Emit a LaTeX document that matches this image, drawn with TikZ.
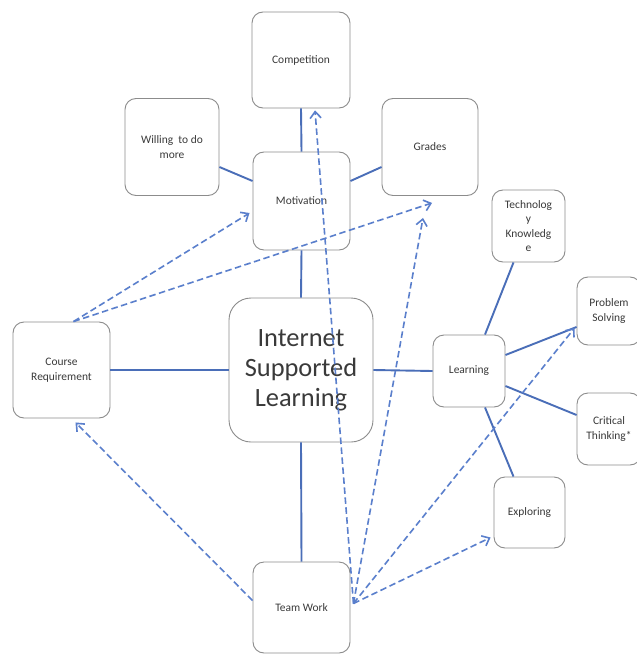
\documentclass[tikz,border=0pt]{standalone}
\usepackage{fontspec}
\setmainfont{Carlito}
\usetikzlibrary{arrows.meta,calc}
\definecolor{ln}{HTML}{4A6EB8}
\definecolor{dl}{HTML}{5A7FCC}
\definecolor{bx}{HTML}{8C8C8C}
\definecolor{tx}{HTML}{3A3A3A}
\tikzset{
 box/.style={draw=bx, line width=0.9bp, rounded corners=11bp, fill=white, align=center, text=tx,
   font=\fontsize{11.5}{14.5}\selectfont, inner sep=0pt},
 link/.style={draw=ln, line width=1.9bp},
 dlink/.style={draw=dl, line width=1.6bp, dash pattern=on 6.5bp off 3.5bp,
   -{Straight Barb[length=6.5bp,width=11bp]}},
}
\begin{document}
\begin{tikzpicture}[x=1bp,y=-1bp]
\useasboundingbox (0,0) rectangle (637,655);
\clip (0,0) rectangle (637,655);
\fill[white] (0,0) rectangle (637,655);
% boxes
\node[box, minimum width=98bp, minimum height=96bp] (comp) at (301,60) {Competition};
\node[box, minimum width=94bp, minimum height=97bp] (will) at (172,147) {Willing\ \ to do\\more};
\node[box, minimum width=96bp, minimum height=97bp] (grades) at (430,147) {Grades};
\node[box, minimum width=97bp, minimum height=98bp] (mot) at (301.5,201) {Motivation};
\node[box, minimum width=97bp, minimum height=96bp] (course) at (61.5,370) {Course\\Requirement};
\node[box, minimum width=144bp, minimum height=144bp, rounded corners=22bp,
      font=\fontsize{26.5}{30}\selectfont] (isl) at (301,370) {Internet\\Supported\\Learning};
\node[box, minimum width=72bp, minimum height=72bp] (learn) at (469,371) {Learning};
\node[box, minimum width=73bp, minimum height=72bp] (tech) at (528.5,226) {Technolog\\y\\Knowledg\\e};
\node[box, minimum width=64bp, minimum height=68bp] (ps) at (609,311) {Problem\\Solving};
\node[box, minimum width=64bp, minimum height=72bp] (ct) at (609,429) {Critical\\Thinking*};
\node[box, minimum width=71bp, minimum height=71bp] (expl) at (529.5,512.5) {Exploring};
\node[box, minimum width=97bp, minimum height=91bp] (team) at (301.5,607.5) {Team Work};
% solid links
\draw[link] (comp.south) -- (mot.north);
\draw[link] ([yshift=-20bp]will.east) -- ([yshift=20bp]mot.west);
\draw[link] ([yshift=-20bp]grades.west) -- ([yshift=20bp]mot.east);
\draw[link] (mot.south) -- (isl.north);
\draw[link] (isl.south) -- (team.north);
\draw[link] (course.east) -- (isl.west);
\draw[link] (isl.east) -- (learn.west);
\draw[link] ([xshift=16bp]learn.north) -- ([xshift=-15bp]tech.south);
\draw[link] ([yshift=16bp]learn.east) -- ([yshift=-16bp]ps.west);
\draw[link] ([yshift=-15bp]learn.east) -- ([yshift=14bp]ct.west);
\draw[link] ([xshift=16bp]learn.south) -- ([xshift=-16bp]expl.north);
% dashed arrows
\coordinate (cr) at ([xshift=12bp]course.north);
\coordinate (tw) at ([xshift=3bp,yshift=4bp]team.east);
\draw[dlink] (cr) -- ([xshift=-3bp,yshift=-12bp]mot.west);
\draw[dlink] (cr) -- ([xshift=2bp,yshift=-7bp]grades.south);
\draw[dlink] (tw) -- ([xshift=14bp,yshift=-2bp]comp.south);
\draw[dlink] (tw) -- ([xshift=-7bp,yshift=-22bp]grades.south);
\draw[dlink] (tw) -- ([xshift=-2bp,yshift=-17bp]ps.west);
\draw[dlink] (tw) -- ([xshift=-3bp,yshift=-25bp]expl.west);
\draw[dlink] ([yshift=7bp]team.west) -- ([xshift=14bp,yshift=-4bp]course.south);
\end{tikzpicture}
\end{document}
